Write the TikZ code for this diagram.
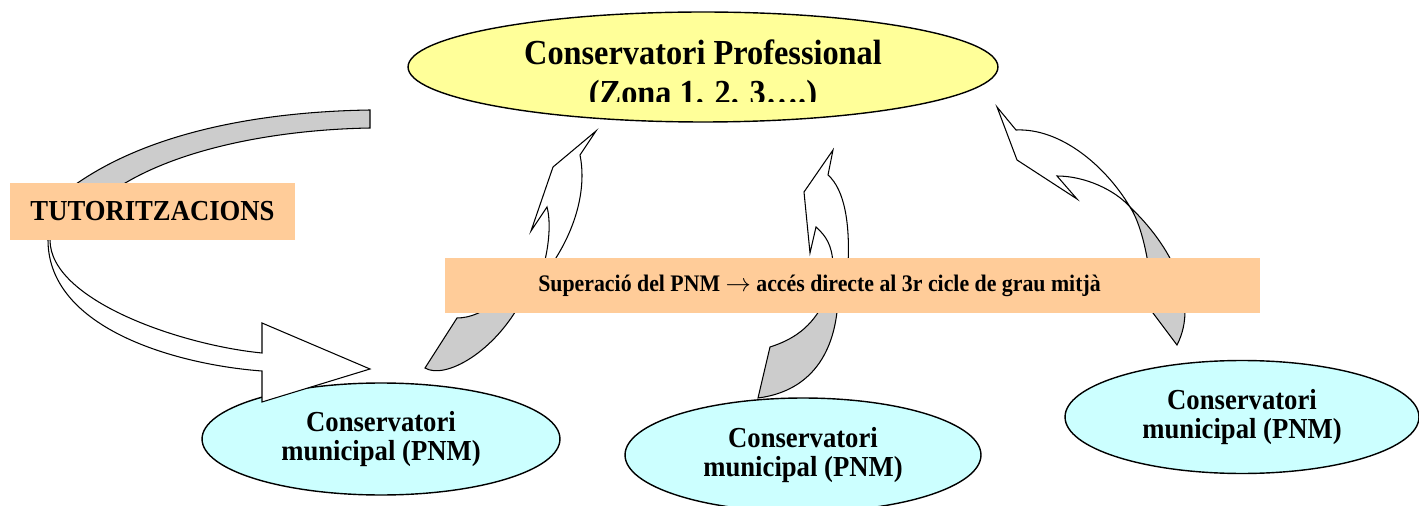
\documentclass[tikz,border=0pt]{standalone}
\usepackage{fontspec}
\setmainfont{Liberation Serif}[FakeStretch=0.92]
\usepackage{tikz}
\usetikzlibrary{shapes.geometric,positioning}

\definecolor{zonayellow}{HTML}{FFFF99}
\definecolor{pnmcyan}{HTML}{CCFFFF}
\definecolor{notepeach}{HTML}{FFCC99}
\definecolor{backgray}{HTML}{CCCCCC}

\begin{document}
\begin{tikzpicture}[
  x=0.02cm, y=-0.02cm,
  font=\bfseries,
  profell/.style={ellipse, draw=black, line width=0.8pt, fill=zonayellow, minimum width=11.8cm, minimum height=2.2cm, inner sep=0pt},
  proftext/.style={font=\bfseries\fontsize{20}{24}\selectfont, anchor=base, inner sep=0pt},
  pnmell/.style={ellipse, draw=black, line width=0.8pt, fill=pnmcyan, inner sep=0pt, align=center, font=\bfseries\fontsize{16.5}{16.5}\selectfont},
  notebox/.style={fill=notepeach, inner sep=0pt},
  frontface/.style={draw=black, line width=0.6pt, fill=white, line join=miter},
  backface/.style={draw=black, line width=0.6pt, fill=backgray, line join=miter}
]

% Mida de la pagina: 1 px = 0.02 cm
\useasboundingbox (0,0) rectangle (1419,506);

% Conservatori professional (a dalt)
\node[profell] (prof) at (703,67) {};
\node[proftext] (proftitle) at (703,65) {Conservatori Professional};
\begin{scope}
  \clip (480,70) rectangle (930,102);
  \node[proftext] (profzona) at (703,105) {(Zona 1. 2. 3….)};
\end{scope}

% Conservatoris municipals
\node[pnmell, minimum width=7.16cm, minimum height=2.24cm] (pnmA) at (381,439) {Conservatori\\municipal (PNM)};
\node[pnmell, minimum width=7.12cm, minimum height=2.28cm] (pnmB) at (803,455) {Conservatori\\municipal (PNM)};
\node[pnmell, minimum width=7.08cm, minimum height=2.26cm] (pnmC) at (1242,417) {Conservatori\\municipal (PNM)};

% Fletxa de les tutoritzacions: tram gris i tram blanc amb la punta
\draw[backface] (370,110) .. controls (240,112) and (120,140) .. (50,205)
  -- (95,205) .. controls (150,155) and (260,130) .. (370,128) -- cycle;
\draw[frontface] (48,228) -- (48,240) .. controls (48,330) and (180,365) .. (262,371)
  -- (262,402) -- (370,369) -- (262,323) -- (262,353)
  .. controls (180,345) and (50,300) .. (50,240) -- (50,228) -- cycle;

% Fletxes de pujada cap al conservatori professional
\draw[backface] (457,318) -- (425,368) .. controls (445,380) and (495,352) .. (522,300)
  -- (497,300) .. controls (485,312) and (470,318) .. (457,318) -- cycle;
\draw[frontface] (544,264) .. controls (549,245) and (551,222) .. (547,207) -- (531,231)
  -- (553,167) -- (596,131) -- (580,155) .. controls (587,190) and (575,230) .. (552,264) -- cycle;

\draw[backface] (770,347) -- (758,398) .. controls (805,392) and (835,360) .. (838,300)
  -- (825,300) .. controls (812,328) and (792,340) .. (770,347) -- cycle;
\draw[frontface] (833,264) .. controls (832,245) and (826,236) .. (816,227) -- (810,253)
  -- (804,192) -- (833,150) -- (828,175) .. controls (845,190) and (850,225) .. (848,264) -- cycle;

\draw[backface] (1130,207) .. controls (1170,245) and (1200,300) .. (1177,345)
  -- (1153,313) .. controls (1152,280) and (1145,230) .. (1130,207) -- cycle;
\draw[frontface] (997,107) -- (1016,130) .. controls (1060,128) and (1105,165) .. (1130,207)
  .. controls (1115,190) and (1085,176) .. (1057,176) -- (1077,199) -- (1017,160) -- cycle;

% Rotuls
\node[notebox, minimum width=5.7cm, minimum height=1.14cm, font=\bfseries\fontsize{16.5}{18}\selectfont] (tut) at (152.5,211.5) {TUTORITZACIONS};
\node[notebox, minimum width=16.3cm, minimum height=1.1cm] (pnmbox) at (852.5,285.5) {};
\node[font=\bfseries\fontsize{13.5}{15}\selectfont, anchor=base, inner sep=0pt] (pnmtext) at (819.5,292) {Superació del PNM $\rightarrow$ accés directe al 3r cicle de grau mitjà};

\end{tikzpicture}
\end{document}
